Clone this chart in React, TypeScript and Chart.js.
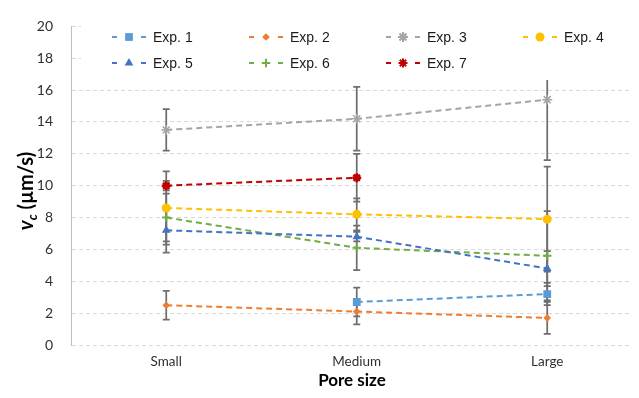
import React, { useEffect, useRef } from 'react';
import { Chart, registerables } from 'chart.js';
import { drawPoint } from 'chart.js/helpers';

Chart.register(...registerables);

const categories = ['Small', 'Medium', 'Large'];
const seriesNames = ['Exp. 1', 'Exp. 2', 'Exp. 3', 'Exp. 4', 'Exp. 5', 'Exp. 6', 'Exp. 7'];

const exp1: (number | null)[] = [null, 2.7, 3.2];
const exp2: (number | null)[] = [2.5, 2.1, 1.7];
const exp3: (number | null)[] = [13.5, 14.2, 15.4];
const exp4: (number | null)[] = [8.6, 8.2, 7.9];
const exp5: (number | null)[] = [7.2, 6.8, 4.8];
const exp6: (number | null)[] = [8.0, 6.1, 5.6];
const exp7: (number | null)[] = [10.0, 10.5, null];

const err1: (number | null)[] = [null, 0.9, 0.7];
const err2: (number | null)[] = [0.9, 0.8, 1.0];
const err3: (number | null)[] = [1.3, 2.0, 3.8];
const err4: (number | null)[] = [2.3, 1.0, 3.3];
const err5: (number | null)[] = [1.4, 0.3, 1.1];
const err6: (number | null)[] = [1.5, 1.4, 2.8];
const err7: (number | null)[] = [0.3, 1.5, null];

const yTicks = [0, 2, 4, 6, 8, 10, 12, 14, 16, 18, 20];

const seriesValues = [exp1, exp2, exp3, exp4, exp5, exp6, exp7];
const seriesErrors = [err1, err2, err3, err4, err5, err6, err7];

const colors = ['#5B9BD5', '#ED7D31', '#A5A5A5', '#FFC000', '#4472C4', '#70AD47', '#C00000'];
const pointStyles = ['rect', 'rectRot', 'star', 'circle', 'triangle', 'cross', 'star'];
const pointRadii = [5.5, 3.8, 5, 4.5, 5, 4.2, 4.5];
const pointBorderWidths = [0, 0, 1.5, 0, 0, 2, 2.5];

const overlayPlugin = {
  id: 'overlay',
  beforeDatasetsDraw(chart: any) {
    const { ctx, chartArea } = chart;
    const xs = chart.scales.x;
    const ys = chart.scales.y;
    ctx.save();
    ctx.beginPath();
    ctx.rect(chartArea.left, chartArea.top, chartArea.right - chartArea.left, chartArea.bottom - chartArea.top);
    ctx.clip();
    ctx.strokeStyle = '#6E6E6E';
    ctx.lineWidth = 1.75;
    seriesValues.forEach((vals, i) => {
      vals.forEach((v, j) => {
        const e = seriesErrors[i][j];
        if (v === null || e === null) return;
        const x = xs.getPixelForValue(j);
        const yt = ys.getPixelForValue(v + e);
        const yb = ys.getPixelForValue(v - e);
        ctx.beginPath();
        ctx.moveTo(x, yt);
        ctx.lineTo(x, yb);
        ctx.moveTo(x - 3.5, yt);
        ctx.lineTo(x + 3.5, yt);
        ctx.moveTo(x - 3.5, yb);
        ctx.lineTo(x + 3.5, yb);
        ctx.stroke();
      });
    });
    ctx.restore();
  },
  afterDraw(chart: any) {
    const { ctx } = chart;
    ctx.save();
    // legend box
    ctx.fillStyle = '#FFFFFF';
    ctx.fillRect(81, 25, 639 - 81, 55);
    const colX = [112, 249, 386, 523];
    const rowY = [37, 63];
    seriesNames.forEach((name, i) => {
      const x0 = colX[i % 4];
      const y0 = rowY[Math.floor(i / 4)];
      ctx.strokeStyle = colors[i];
      ctx.fillStyle = colors[i];
      ctx.lineWidth = 2;
      ctx.setLineDash([]);
      ctx.beginPath();
      ctx.moveTo(x0, y0);
      ctx.lineTo(x0 + 5, y0);
      ctx.moveTo(x0 + 29, y0);
      ctx.lineTo(x0 + 34, y0);
      ctx.stroke();
      drawPoint(ctx, {
        pointStyle: pointStyles[i],
        radius: pointRadii[i],
        rotation: 0,
        borderWidth: pointBorderWidths[i],
      } as any, x0 + 17, y0);
      ctx.fillStyle = '#1a1a1a';
      ctx.font = '14px "Liberation Sans", Arial, sans-serif';
      ctx.textAlign = 'left';
      ctx.textBaseline = 'middle';
      ctx.fillText(name, x0 + 41, y0 + 1);
    });

    // x axis title
    ctx.fillStyle = '#000000';
    ctx.font = 'bold 17px Lato, sans-serif';
    ctx.textAlign = 'center';
    ctx.textBaseline = 'alphabetic';
    ctx.fillText('Pore size', 352, 386);

    // y axis title
    ctx.translate(33, 191);
    ctx.rotate(-Math.PI / 2);
    const f1 = 'italic bold 20px Lato, sans-serif';
    const f2 = 'italic bold 13px Lato, sans-serif';
    const f3 = 'bold 20px Lato, sans-serif';
    ctx.font = f1;
    const w1 = ctx.measureText('v').width;
    ctx.font = f2;
    const w2 = ctx.measureText('c').width;
    ctx.font = f3;
    const w3 = ctx.measureText(' (µm/s)').width;
    const W = w1 + w2 + w3;
    let cx = -W / 2;
    ctx.textAlign = 'left';
    ctx.font = f1;
    ctx.fillText('v', cx, 0);
    cx += w1;
    ctx.font = f2;
    ctx.fillText('c', cx, 4);
    cx += w2;
    ctx.font = f3;
    ctx.fillText(' (µm/s)', cx, 0);
    ctx.restore();
  },
};

export default function App() {
  const ref = useRef<HTMLCanvasElement | null>(null);
  useEffect(() => {
    document.body.style.margin = '0';
    const canvas = ref.current;
    if (!canvas) return;
    const datasets = seriesValues.map((vals, i) => ({
      label: seriesNames[i],
      data: vals
        .map((v, j) => ({ x: j, y: v }))
        .filter((p) => p.y !== null),
      borderColor: colors[i],
      backgroundColor: colors[i],
      borderWidth: 2,
      borderDash: [6, 4],
      pointStyle: pointStyles[i] as any,
      pointRadius: pointRadii[i],
      pointHoverRadius: pointRadii[i],
      pointBorderWidth: pointBorderWidths[i],
      pointBorderColor: colors[i],
      pointBackgroundColor: colors[i],
      fill: false,
      tension: 0,
    }));
    const chart = new Chart(canvas, {
      type: 'line',
      data: { datasets: datasets as any },
      options: {
        responsive: false,
        animation: false,
        devicePixelRatio: 1,
        layout: { padding: { top: 22, right: 0, left: 0, bottom: 0 } },
        plugins: {
          legend: { display: false },
          tooltip: { enabled: false },
        },
        scales: {
          x: {
            type: 'linear',
            min: -0.5,
            max: 2.445,
            afterBuildTicks: (s: any) => {
              s.ticks = categories.map((_, i) => ({ value: i }));
            },
            afterFit: (s: any) => {
              s.height = 53;
            },
            ticks: {
              callback: (v: any) => categories[Math.round(Number(v))] ?? '',
              font: { family: 'Lato, sans-serif', size: 13.5 },
              color: '#303030',
              padding: 9,
              autoSkip: false,
              maxRotation: 0,
            },
            grid: { display: false, drawTicks: false },
            border: { display: false },
          },
          y: {
            min: 0,
            max: 20,
            afterBuildTicks: (s: any) => {
              s.ticks = yTicks.map((v) => ({ value: v }));
            },
            afterFit: (s: any) => {
              s.width = 71;
            },
            ticks: {
              font: { family: 'Lato, sans-serif', size: 14 },
              color: '#303030',
              padding: 18,
            },
            grid: { color: '#D9D9D9', lineWidth: 1, drawTicks: false },
            border: { display: true, color: '#BFBFBF', width: 1, dash: [4, 3] },
          },
        },
      },
      plugins: [overlayPlugin],
    });
    return () => chart.destroy();
  }, []);
  return <canvas ref={ref} width={639} height={398} style={{ display: 'block', width: 639, height: 398 }} />;
}
